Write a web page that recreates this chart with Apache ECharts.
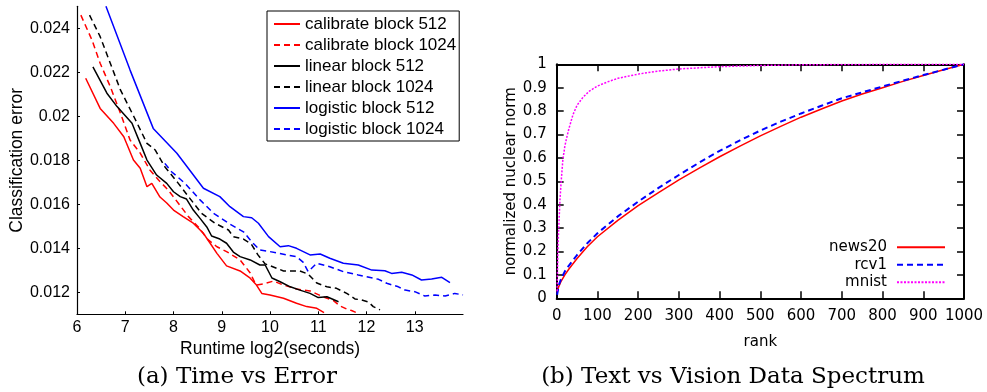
<!DOCTYPE html>
<html><head><meta charset="utf-8">
<script src="https://cdn.jsdelivr.net/npm/echarts@6/dist/echarts.min.js"></script>
<style>html,body{margin:0;padding:0;background:#fff}#c{width:987px;height:392px}</style>
</head><body><div id="c"></div>
<script>
// ---------- data: (a) Time vs Error  [log2 seconds, classification error] ----------
const calibrate512 = [[6.18,0.02173],[6.48,0.02036],[6.76,0.01968],[6.97,0.01907],[7.17,0.01801],[7.31,0.01764],[7.45,0.01680],[7.55,0.01695],[7.72,0.01633],[7.86,0.01606],[8.00,0.01574],[8.20,0.01544],[8.41,0.01514],[8.62,0.01468],[8.76,0.01423],[8.90,0.01377],[9.10,0.01320],[9.38,0.01297],[9.59,0.01264],[9.72,0.01233],[9.83,0.01195],[10.00,0.01188],[10.28,0.01173],[10.55,0.01150],[10.76,0.01135],[10.97,0.01127],[11.12,0.01108]];
const calibrate1024 = [[6.08,0.02460],[6.31,0.02347],[6.48,0.02241],[6.69,0.02135],[6.90,0.02014],[7.10,0.01892],[7.31,0.01833],[7.51,0.01756],[7.69,0.01710],[7.89,0.01665],[8.10,0.01605],[8.31,0.01544],[8.51,0.01498],[8.72,0.01438],[8.90,0.01407],[9.10,0.01385],[9.38,0.01347],[9.59,0.01288],[9.71,0.01233],[9.86,0.01238],[10.07,0.01251],[10.28,0.01233],[10.55,0.01215],[10.83,0.01206],[11.11,0.01179],[11.31,0.01163],[11.45,0.01138],[11.59,0.01124],[11.69,0.01117],[11.83,0.01104]];
const linear512 = [[6.33,0.02225],[6.62,0.02105],[6.83,0.02044],[7.14,0.01968],[7.31,0.01877],[7.45,0.01801],[7.65,0.01733],[7.86,0.01695],[8.00,0.01657],[8.14,0.01635],[8.27,0.01624],[8.41,0.01574],[8.55,0.01536],[8.69,0.01497],[8.79,0.01456],[8.96,0.01442],[9.10,0.01423],[9.24,0.01383],[9.38,0.01362],[9.59,0.01347],[9.79,0.01324],[9.90,0.01324],[10.04,0.01265],[10.21,0.01248],[10.42,0.01225],[10.62,0.01210],[10.83,0.01195],[11.00,0.01176],[11.18,0.01180],[11.42,0.01157]];
const linear1024 = [[6.26,0.02460],[6.48,0.02362],[6.69,0.02241],[6.90,0.02120],[7.18,0.01998],[7.45,0.01877],[7.62,0.01847],[7.82,0.01771],[8.10,0.01695],[8.31,0.01635],[8.58,0.01559],[8.86,0.01514],[9.14,0.01483],[9.24,0.01453],[9.45,0.01442],[9.61,0.01420],[9.75,0.01370],[9.90,0.01329],[10.07,0.01315],[10.28,0.01297],[10.62,0.01297],[10.79,0.01283],[10.97,0.01242],[11.18,0.01225],[11.38,0.01218],[11.59,0.01195],[11.76,0.01170],[11.90,0.01165],[12.04,0.01156],[12.14,0.01135],[12.28,0.01120]];
const logistic512 = [[6.60,0.02500],[7.10,0.02210],[7.58,0.01945],[8.07,0.01832],[8.62,0.01673],[8.96,0.01635],[9.17,0.01589],[9.45,0.01544],[9.62,0.01539],[9.76,0.01514],[9.97,0.01453],[10.21,0.01407],[10.38,0.01412],[10.55,0.01400],[10.83,0.01370],[11.04,0.01374],[11.24,0.01355],[11.52,0.01332],[11.83,0.01324],[12.11,0.01301],[12.38,0.01298],[12.52,0.01286],[12.73,0.01291],[12.94,0.01279],[13.14,0.01256],[13.35,0.01260],[13.56,0.01268],[13.73,0.01244]];
const logistic1024 = [[7.82,0.01786],[7.96,0.01748],[8.24,0.01695],[8.55,0.01620],[8.83,0.01559],[9.17,0.01510],[9.45,0.01475],[9.62,0.01430],[9.79,0.01392],[10.00,0.01385],[10.35,0.01370],[10.55,0.01362],[10.69,0.01336],[10.79,0.01294],[10.97,0.01332],[11.24,0.01316],[11.52,0.01294],[11.83,0.01279],[12.25,0.01259],[12.42,0.01241],[12.66,0.01225],[12.80,0.01210],[13.00,0.01203],[13.21,0.01183],[13.42,0.01188],[13.63,0.01183],[13.83,0.01195],[14.00,0.01188]];
const refLines = [0.012, 0.011];
const leftXTicks = [6,7,8,9,10,11,12,13];
const leftYTicks = [0.012,0.014,0.016,0.018,0.020,0.022,0.024];

// ---------- data: (b) Text vs Vision Data Spectrum  [rank, normalized nuclear norm] ----------
const news20 = [[1,0.025],[5,0.05],[10,0.07],[20,0.10],[30,0.125],[50,0.17],[75,0.22],[100,0.263],[150,0.333],[200,0.396],[250,0.452],[300,0.506],[350,0.556],[400,0.605],[450,0.65],[500,0.694],[550,0.735],[600,0.774],[650,0.809],[700,0.843],[750,0.873],[800,0.900],[850,0.927],[900,0.952],[950,0.977],[1000,1.0]];
const rcv1 = [[1,0.015],[5,0.055],[10,0.08],[20,0.115],[30,0.14],[50,0.185],[75,0.235],[100,0.278],[150,0.35],[200,0.413],[250,0.472],[300,0.527],[350,0.58],[400,0.63],[450,0.675],[500,0.717],[550,0.755],[600,0.79],[650,0.823],[700,0.855],[750,0.88],[800,0.905],[850,0.93],[900,0.954],[950,0.977],[1000,1.0]];
const mnist = [[1,0.03],[2,0.12],[3,0.2],[4,0.26],[6,0.34],[8,0.42],[11,0.5],[15,0.59],[20,0.65],[25,0.69],[30,0.725],[40,0.785],[50,0.825],[65,0.86],[80,0.885],[100,0.907],[125,0.925],[150,0.94],[200,0.958],[250,0.971],[300,0.98],[400,0.99],[500,0.995],[600,0.998],[800,1.0],[1000,1.0]];
const rightXTicks = 100;
const rightYTicks = 0.1;
const captions = ['(a) Time vs Error', '(b) Text vs Vision Data Spectrum'];

// ---------- chart ----------
const SANS = 'Liberation Sans';
const DJ = 'DejaVu Sans';
const chart = echarts.init(document.getElementById('c'), null, {renderer: 'canvas'});
function line(name, data, color, dashed, xi, width, dash) {
  return {
    name, type: 'line', data, xAxisIndex: xi, yAxisIndex: xi,
    symbol: 'none', showSymbol: false, animation: false, silent: true,
    lineStyle: {color, width: width || 1.5, type: dashed ? (dash || [6, 4]) : 'solid'},
    itemStyle: {color}
  };
}
const s1 = line('logistic block 512', logistic512, '#0000ff', false, 0);
s1.markLine = {
  silent: true, symbol: 'none', animation: false,
  label: {show: false},
  lineStyle: {color: '#8080ff', type: [1.5, 2.5], width: 1},
  data: refLines.map(v => ({yAxis: v}))
};
const option = {
  animation: false,
  backgroundColor: '#fff',
  title: [
    {text: captions[0], left: 237, top: 366, textAlign: 'center', padding: 0,
     textStyle: {fontFamily: 'DejaVu Serif', fontSize: 23, fontWeight: 'normal', color: '#000'}},
    {text: captions[1], left: 733, top: 366, textAlign: 'center', padding: 0,
     textStyle: {fontFamily: 'DejaVu Serif', fontSize: 23, fontWeight: 'normal', color: '#000'}}
  ],
  grid: [
    {left: 77, top: 6.3, width: 386, height: 308},
    {left: 556.7, top: 64.3, width: 407.3, height: 234}
  ],
  legend: [
    {
      data: ['calibrate block 512','calibrate block 1024','linear block 512','linear block 1024','logistic block 512','logistic block 1024'],
      orient: 'vertical', left: 267, top: 11, padding: [4, 3, 3, 6],
      borderColor: '#000', borderWidth: 1, backgroundColor: '#fff',
      itemWidth: 26, itemHeight: 14, itemGap: 3, selectedMode: false,
      itemStyle: {opacity: 0, borderWidth: 0},
      textStyle: {fontFamily: SANS, fontSize: 17, lineHeight: 18, color: '#000'}
    },
    {
      data: ['news20','rcv1','mnist'],
      orient: 'vertical', right: 41, top: 239.8, padding: 0, align: 'right',
      itemWidth: 48, itemHeight: 10, itemGap: 2.5, selectedMode: false,
      itemStyle: {opacity: 0, borderWidth: 0},
      textStyle: {fontFamily: DJ, fontSize: 15, lineHeight: 15, color: '#000', padding: [0, 5, 0, 0]}
    }
  ],
  xAxis: [
    {gridIndex: 0, type: 'value', min: 6, max: 14, interval: 1,
     axisLine: {onZero: false, lineStyle: {color: '#000', width: 1.2}},
     axisTick: {inside: true, length: 3, customValues: leftXTicks, lineStyle: {color: '#000'}},
     axisLabel: {customValues: leftXTicks, color: '#000', fontFamily: SANS, fontSize: 16, margin: 5},
     splitLine: {show: false},
     name: 'Runtime log2(seconds)', nameLocation: 'middle', nameGap: 23,
     nameTextStyle: {fontFamily: SANS, fontSize: 17.5, color: '#000'}},
    {gridIndex: 1, type: 'value', min: 0, max: 1000, interval: rightXTicks,
     axisLine: {onZero: false, lineStyle: {color: '#000', width: 2}},
     axisTick: {inside: true, length: 7, lineStyle: {color: '#000', width: 1.5}},
     axisLabel: {color: '#000', fontFamily: DJ, fontSize: 15, margin: 10, formatter: v => String(v)},
     splitLine: {show: false},
     name: 'rank', nameLocation: 'middle', nameGap: 36,
     nameTextStyle: {fontFamily: DJ, fontSize: 15, color: '#000'}},
    {gridIndex: 1, type: 'value', position: 'top', min: 0, max: 1000, interval: rightXTicks,
     axisLine: {onZero: false, lineStyle: {color: '#000', width: 2}},
     axisTick: {inside: true, length: 7, lineStyle: {color: '#000', width: 1.5}},
     axisLabel: {show: false}, splitLine: {show: false}}
  ],
  yAxis: [
    {gridIndex: 0, type: 'value', min: 0.011, max: 0.025, interval: 0.001,
     axisLine: {show: true, onZero: false, lineStyle: {color: '#000', width: 1.2}},
     axisTick: {show: true, inside: true, length: 3, customValues: leftYTicks, lineStyle: {color: '#000'}},
     axisLabel: {customValues: leftYTicks, color: '#000', fontFamily: SANS, fontSize: 16, margin: 7,
                 formatter: v => String(+(+v).toFixed(3))},
     splitLine: {show: false},
     name: 'Classification error', nameLocation: 'middle', nameGap: 51,
     nameTextStyle: {fontFamily: SANS, fontSize: 17.5, color: '#000'}},
    {gridIndex: 1, type: 'value', min: 0, max: 1, interval: rightYTicks,
     axisLine: {show: true, onZero: false, lineStyle: {color: '#000', width: 2}},
     axisTick: {show: true, inside: true, length: 7, lineStyle: {color: '#000', width: 1.5}},
     axisLabel: {color: '#000', fontFamily: DJ, fontSize: 15, margin: 10,
                 formatter: v => String(+(+v).toFixed(1))},
     splitLine: {show: false},
     name: 'normalized nuclear norm', nameLocation: 'middle', nameGap: 38,
     nameTextStyle: {fontFamily: DJ, fontSize: 15, color: '#000'}},
    {gridIndex: 1, type: 'value', position: 'right', min: 0, max: 1, interval: rightYTicks,
     axisLine: {show: true, onZero: false, lineStyle: {color: '#000', width: 2}},
     axisTick: {show: true, inside: true, length: 7, lineStyle: {color: '#000', width: 1.5}},
     axisLabel: {show: false}, splitLine: {show: false}}
  ],
  series: [
    line('calibrate block 512', calibrate512, '#ff0000', false, 0),
    line('calibrate block 1024', calibrate1024, '#ff0000', true, 0),
    line('linear block 512', linear512, '#000000', false, 0),
    line('linear block 1024', linear1024, '#000000', true, 0),
    s1,
    line('logistic block 1024', logistic1024, '#0000ff', true, 0),
    line('news20', news20, '#ff0000', false, 1, 1.5),
    line('rcv1', rcv1, '#0000ff', true, 1, 2, [6, 4]),
    line('mnist', mnist, '#ff00ff', true, 1, 1.5, [2, 1.5])
  ]
};
chart.setOption(option);
</script></body></html>
